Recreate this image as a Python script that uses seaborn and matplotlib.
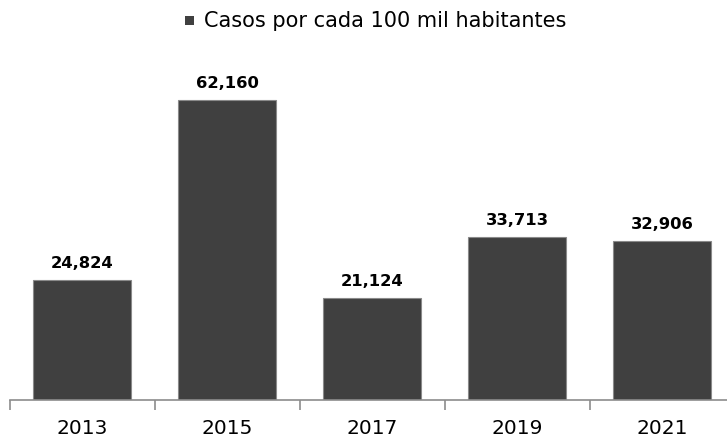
import matplotlib
matplotlib.use("Agg")
import matplotlib.pyplot as plt
import matplotlib.patches as mpatches
import seaborn as sns
import pandas as pd

# Data
years = ["2013", "2015", "2017", "2019", "2021"]
casos = [24824, 62160, 21124, 33713, 32906]
series_name = "Casos por cada 100 mil habitantes"

df = pd.DataFrame({"year": years, "casos": casos, "serie": series_name})

sns.set_style("white")
plt.rcParams['font.family'] = ['DejaVu Sans']

fig = plt.figure(figsize=(7.27, 4.37), dpi=100)
# axis runs past the right edge of the figure like in the original
ax = fig.add_axes([0.0131, 0.0847, 0.9973, 0.773])

bar_color = "#404040"
sns.barplot(data=df, x="year", y="casos", hue="serie", palette=[bar_color],
            width=0.676, edgecolor="#8a8a8a", linewidth=0.8,
            ax=ax, legend=False)

for i, v in enumerate(casos):
    ax.annotate(f"{v:,}", (i, v), xytext=(0, 8.5), textcoords="offset points",
                ha="center", va="baseline", fontsize=11.8, fontweight="bold",
                color="black")

ax.set_ylim(0, 70000)
ax.set_xlim(-0.5, len(years) - 0.5)
ax.set_xlabel("")
ax.set_ylabel("")
ax.set_yticks([])

for s in ["top", "right", "left"]:
    ax.spines[s].set_visible(False)
ax.spines["bottom"].set_color("#8c8c8c")
ax.spines["bottom"].set_linewidth(1.2)

# category labels without ticks, tick marks at category boundaries
ax.tick_params(axis="x", which="major", length=0, labelsize=14.5, pad=14,
               labelcolor="black")
ax.set_xticks([x - 0.5 for x in range(len(years) + 1)], minor=True)
ax.tick_params(axis="x", which="minor", length=7, width=1.2, color="#8c8c8c",
               direction="out", bottom=True)

# legend at top
fig.patches.append(mpatches.Rectangle((0.2545, 0.943), 0.0124, 0.0206,
                                      transform=fig.transFigure,
                                      facecolor=bar_color, edgecolor="none"))
fig.text(0.2806, 0.952, series_name, fontsize=15, color="black",
         ha="left", va="center")

fig.savefig("out.png", dpi=100)
